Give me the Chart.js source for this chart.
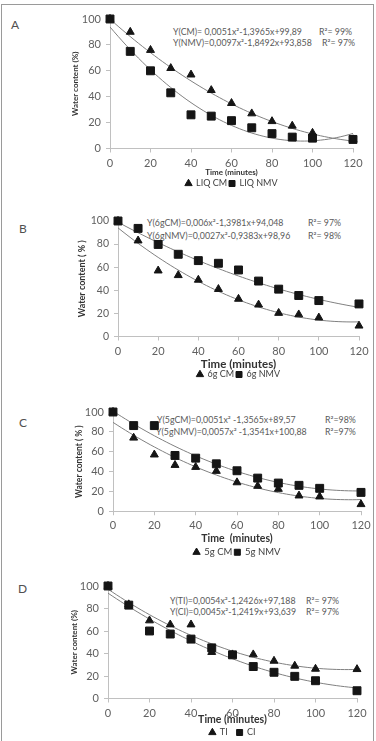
<!DOCTYPE html>
<html>
<head>
<meta charset="utf-8">
<script src="https://cdn.jsdelivr.net/npm/chart.js@4.4.1/dist/chart.umd.min.js"></script>
<style>
  body { margin: 0; width: 376px; height: 741px; background: #fff; position: relative; overflow: hidden; font-family: Lato, "Open Sans", sans-serif; }
  #frame { position: absolute; left: 1px; top: 4px; width: 371px; height: 760px; border: 1px solid #9a9a9a; }
  canvas { position: absolute; left: 0; }
  .letter { position: absolute; font-size: 12px; color: #505050; line-height: 12px; }
  .eq { position: absolute; font-size: 8.8px; color: #5a5a5a; white-space: pre; line-height: 10px; }
</style>
</head>
<body>
<div id="frame"></div>

<div class="letter" style="left:11px;top:19px">A</div>
<div class="letter" style="left:19px;top:223px">B</div>
<div class="letter" style="left:19px;top:417px">C</div>
<div class="letter" style="left:18px;top:583px">D</div>

<div class="eq" style="left:173px;top:27px">Y(CM)= 0,0051x²-1,3965x+99,89</div>
<div class="eq" style="left:319px;top:27px">R²= 99%</div>
<div class="eq" style="left:173px;top:38px">Y(NMV)=0,0097x²-1,8492x+93,858</div>
<div class="eq" style="left:322px;top:38px">R²= 97%</div>

<div class="eq" style="left:147px;top:218px">Y(6gCM)=0,006x²-1,3981x+94,048</div>
<div class="eq" style="left:308px;top:218px">R²= 97%</div>
<div class="eq" style="left:147px;top:231px">Y(6gNMV)=0,0027x²-0,9383x+98,96</div>
<div class="eq" style="left:308px;top:231px">R²= 98%</div>

<div class="eq" style="left:157px;top:415px">Y(5gCM)=0,0051x² -1,3565x+89,57</div>
<div class="eq" style="left:325px;top:415px">R²=98%</div>
<div class="eq" style="left:156px;top:427px">Y(5gNMV)=0,0057x² -1,3541x+100,88</div>
<div class="eq" style="left:325px;top:427px">R²=97%</div>

<div class="eq" style="left:170px;top:596px">Y(TI)=0,0054x²-1,2426x+97,188</div>
<div class="eq" style="left:306px;top:596px">R²= 97%</div>
<div class="eq" style="left:170px;top:607px">Y(CI)=0,0045x²-1,2419x+93,639</div>
<div class="eq" style="left:306px;top:607px">R²= 97%</div>

<script>
// sampling times (minutes)
const times = [0, 10, 20, 30, 40, 50, 60, 70, 80, 90, 100, 120];

// A - liquid
const liqCM = [100, 90, 76, 62, 57, 45, 35, 27, 21, 17.5, 12, 7];
const liqNMV = [100, 75, 60, 43, 26, 25, 21.5, 16, 11.5, 8.8, 8, 7];
// B - 6g
const g6CM = [100, 83, 57, 53, 49, 41, 32.5, 27.5, 20.3, 19, 16.3, 9.3];
const g6NMV = [100, 93.6, 79.7, 71.2, 65.7, 63.4, 57.6, 48, 41, 35.5, 31.1, 28.2];
// C - 5g
const g5CM = [100, 74, 57, 46.5, 44.5, 40.5, 29, 25.4, 22.4, 15.7, 14.7, 7];
const g5NMV = [100, 86.3, 86.3, 56.2, 53.5, 47.8, 40.8, 33.4, 28.4, 26.1, 23.1, 19];
// D - TI / CI
const tiVals = [100, 83.6, 69.3, 65.7, 65.7, 41.2, 39.1, 39.1, 33.4, 29, 26.3, 26];
const ciVals = [100, 83, 60, 57.3, 52.8, 45, 38.8, 28.4, 23.3, 19.7, 15.8, 6.9];

// trendline coefficients [a, b, c] (y = ax² + bx + c), from the printed equations;
const fitLiqCM = [0.0051, -1.3965, 99.89];
const fitLiqNMV = [0.0097, -1.8492, 93.858];
const fit6gCM = [0.006, -1.3981, 94.048];
const fit6gNMV = [0.0027, -0.9383, 98.96];
const fit5gCM = [0.0059, -1.3565, 89.57];
const fit5gNMV = [0.0057, -1.3541, 100.88];
const fitTI = [0.0054, -1.2426, 97.188];
const fitCI = [0.0045, -1.2419, 93.639];

Chart.defaults.font.family = 'Lato, "Open Sans", sans-serif';
Chart.defaults.color = '#595959';

function pairs(ys) {
  return times.map((t, i) => ({ x: t, y: ys[i] }));
}

function trend(c) {
  const pts = [];
  for (let x = 0; x <= 120; x += 2) pts.push({ x: x, y: c[0] * x * x + c[1] * x + c[2] });
  return pts;
}

function makePanel(p) {
  const lp = 2;
  const legendH = p.legendFs + lp + 10;
  const xh = p.legendY - lp - p.legendFs / 2 - p.B;
  const h = Math.round(p.B - p.top + xh + legendH);
  const cv = document.createElement('canvas');
  cv.width = 376;
  cv.height = h;
  cv.style.top = p.top + 'px';
  document.body.appendChild(cv);

  const xTitleLh = p.xTitleFs * 1.2;
  const yTitleLh = p.yTitleFs * 1.2;

  new Chart(cv.getContext('2d'), {
    type: 'scatter',
    data: {
      datasets: [{
        label: p.names[0],
        data: pairs(p.a),
        pointStyle: 'triangle',
        pointRadius: 4.6,
        backgroundColor: '#151515',
        borderColor: '#151515',
        clip: false
      }, {
        label: p.names[1],
        data: pairs(p.b),
        pointStyle: 'rect',
        pointRadius: 5.6,
        backgroundColor: '#151515',
        borderColor: '#151515',
        clip: false
      }, {
        label: 'fit1',
        data: trend(p.fa),
        showLine: true,
        pointRadius: 0,
        borderColor: '#808080',
        borderWidth: 1,
        clip: false
      }, {
        label: 'fit2',
        data: trend(p.fb),
        showLine: true,
        pointRadius: 0,
        borderColor: '#808080',
        borderWidth: 1,
        clip: false
      }]
    },
    options: {
      responsive: false,
      animation: false,
      devicePixelRatio: 1,
      layout: {
        padding: { left: 0, top: p.T - p.top, right: 376 - p.R, bottom: 0 }
      },
      plugins: {
        tooltip: { enabled: false },
        legend: {
          position: 'bottom',
          fullSize: false,
          labels: {
            usePointStyle: true,
            boxWidth: 6,
            boxHeight: 6,
            padding: lp,
            color: '#404040',
            font: { size: p.legendFs },
            filter: item => item.datasetIndex < 2
          }
        }
      },
      scales: {
        x: {
          type: 'linear',
          min: 0,
          max: 120,
          ticks: { stepSize: 20, padding: 4, font: { size: 11 }, color: '#606060' },
          grid: { drawOnChartArea: false, tickLength: 4, color: '#c0c0c0' },
          border: { color: '#c0c0c0' },
          title: {
            display: true,
            text: p.xTitle,
            color: '#333',
            font: { size: p.xTitleFs, weight: 'bold' },
            padding: { top: 0, bottom: p.B + xh - xTitleLh / 2 - p.xTitleY }
          },
          afterFit: s => { s.height = xh; }
        },
        y: {
          min: 0,
          max: 100,
          ticks: { stepSize: p.step, padding: 5, font: { size: p.yTickFs }, color: '#606060' },
          grid: { drawOnChartArea: false, tickLength: 4, color: '#c0c0c0' },
          border: { color: '#c0c0c0' },
          title: {
            display: true,
            text: p.yTitle,
            color: '#333',
            font: { size: p.yTitleFs, weight: 'bold' },
            padding: { top: p.yTitleX - yTitleLh / 2, bottom: 0 }
          },
          afterFit: s => { s.width = p.L; }
        }
      }
    }
  });
}

makePanel({
  top: 5, T: 19, B: 148, L: 110, R: 353, step: 20, yTickFs: 11,
  a: liqCM, b: liqNMV, fa: fitLiqCM, fb: fitLiqNMV, names: ['LIQ CM', 'LIQ NMV'],
  yTitle: 'Water content (%)', yTitleX: 75, yTitleFs: 8,
  xTitle: 'Time (minutes)', xTitleY: 172, xTitleFs: 8,
  legendY: 183, legendFs: 9
});

makePanel({
  top: 190, T: 221, B: 336, L: 118, R: 359, step: 10, yTickFs: 10.5,
  a: g6CM, b: g6NMV, fa: fit6gCM, fb: fit6gNMV, names: ['6g CM', '6g NMV'],
  yTitle: 'Water content ( % )', yTitleX: 82, yTitleFs: 9,
  xTitle: 'Time (minutes)', xTitleY: 364, xTitleFs: 11.5,
  legendY: 374, legendFs: 9
});

makePanel({
  top: 378, T: 412, B: 511, L: 113, R: 361, step: 20, yTickFs: 11,
  a: g5CM, b: g5NMV, fa: fit5gCM, fb: fit5gNMV, names: ['5g CM', '5g NMV'],
  yTitle: 'Water content ( % )', yTitleX: 79, yTitleFs: 8.5,
  xTitle: 'Time  (minutes)', xTitleY: 538, xTitleFs: 10.5,
  legendY: 552, legendFs: 9.5
});

makePanel({
  top: 558, T: 586, B: 698, L: 108, R: 357, step: 20, yTickFs: 11,
  a: tiVals, b: ciVals, fa: fitTI, fb: fitCI, names: ['TI   ', 'CI'],
  yTitle: 'Water content (%)', yTitleX: 74, yTitleFs: 8,
  xTitle: 'Time (minutes)', xTitleY: 719, xTitleFs: 10.5,
  legendY: 732, legendFs: 9
});
</script>
</body>
</html>
